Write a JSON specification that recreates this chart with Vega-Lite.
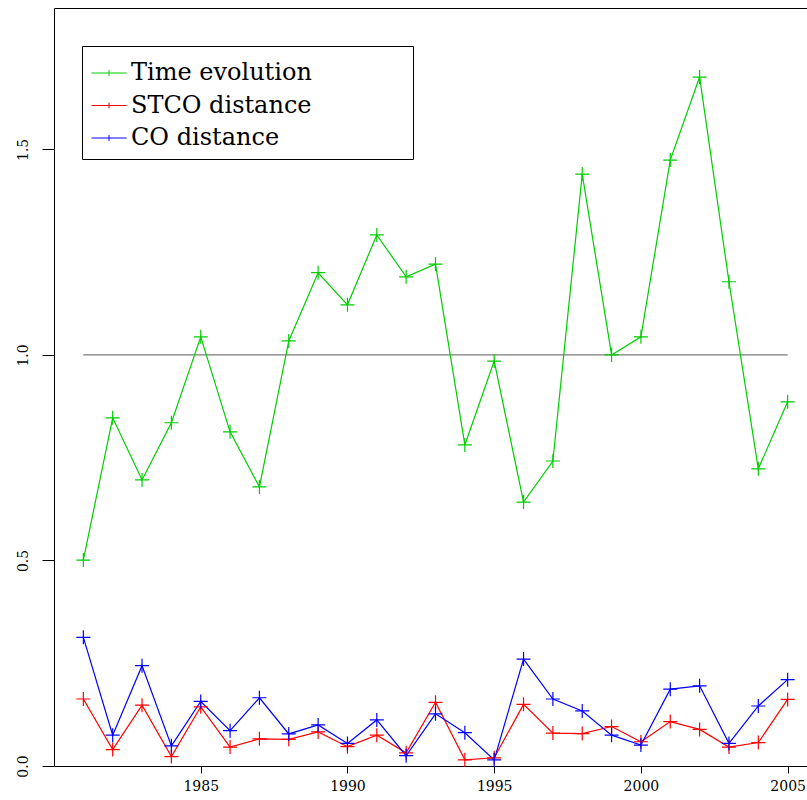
{
  "$schema": "https://vega.github.io/schema/vega-lite/v6.json",
  "width": 763,
  "height": 758,
  "autosize": {"type": "none"},
  "padding": {"left": 54, "top": 8, "right": 0, "bottom": 34},
  "background": "white",
  "config": {
    "view": {"stroke": "black", "strokeWidth": 1},
    "font": "DejaVu Serif",
    "axis": {"grid": false, "domain": false, "tickColor": "black", "labelColor": "black", "labelFont": "DejaVu Serif", "labelFontSize": 14, "title": null},
    "legend": {"orient": "none", "legendX": 28, "legendY": 38, "strokeColor": "black", "fillColor": "white", "padding": 9, "labelFont": "DejaVu Serif", "labelFontSize": 24, "labelColor": "black", "labelOffset": 4, "labelLimit": 600, "symbolType": "M-1,0H1M0,-0.17V0.17", "symbolSize": 1225, "symbolStrokeWidth": 1, "rowPadding": 2.5}
  },
  "datasets": {
    "ref": [{"x": 1981, "x2": 2005, "y": 1}],
    "series": [
      {"year": 1981, "series": "Time evolution", "value": 0.501},
      {"year": 1982, "series": "Time evolution", "value": 0.847},
      {"year": 1983, "series": "Time evolution", "value": 0.696},
      {"year": 1984, "series": "Time evolution", "value": 0.835},
      {"year": 1985, "series": "Time evolution", "value": 1.044},
      {"year": 1986, "series": "Time evolution", "value": 0.813},
      {"year": 1987, "series": "Time evolution", "value": 0.679},
      {"year": 1988, "series": "Time evolution", "value": 1.034},
      {"year": 1989, "series": "Time evolution", "value": 1.2},
      {"year": 1990, "series": "Time evolution", "value": 1.122},
      {"year": 1991, "series": "Time evolution", "value": 1.292},
      {"year": 1992, "series": "Time evolution", "value": 1.19},
      {"year": 1993, "series": "Time evolution", "value": 1.221},
      {"year": 1994, "series": "Time evolution", "value": 0.781},
      {"year": 1995, "series": "Time evolution", "value": 0.985},
      {"year": 1996, "series": "Time evolution", "value": 0.642},
      {"year": 1997, "series": "Time evolution", "value": 0.742},
      {"year": 1998, "series": "Time evolution", "value": 1.44},
      {"year": 1999, "series": "Time evolution", "value": 1.0},
      {"year": 2000, "series": "Time evolution", "value": 1.044},
      {"year": 2001, "series": "Time evolution", "value": 1.474},
      {"year": 2002, "series": "Time evolution", "value": 1.676},
      {"year": 2003, "series": "Time evolution", "value": 1.178},
      {"year": 2004, "series": "Time evolution", "value": 0.723},
      {"year": 2005, "series": "Time evolution", "value": 0.886},
      {"year": 1981, "series": "STCO distance", "value": 0.163},
      {"year": 1982, "series": "STCO distance", "value": 0.04},
      {"year": 1983, "series": "STCO distance", "value": 0.148},
      {"year": 1984, "series": "STCO distance", "value": 0.023},
      {"year": 1985, "series": "STCO distance", "value": 0.144},
      {"year": 1986, "series": "STCO distance", "value": 0.046},
      {"year": 1987, "series": "STCO distance", "value": 0.066},
      {"year": 1988, "series": "STCO distance", "value": 0.065},
      {"year": 1989, "series": "STCO distance", "value": 0.083},
      {"year": 1990, "series": "STCO distance", "value": 0.047},
      {"year": 1991, "series": "STCO distance", "value": 0.075},
      {"year": 1992, "series": "STCO distance", "value": 0.032},
      {"year": 1993, "series": "STCO distance", "value": 0.155},
      {"year": 1994, "series": "STCO distance", "value": 0.015},
      {"year": 1995, "series": "STCO distance", "value": 0.02},
      {"year": 1996, "series": "STCO distance", "value": 0.15},
      {"year": 1997, "series": "STCO distance", "value": 0.08},
      {"year": 1998, "series": "STCO distance", "value": 0.079},
      {"year": 1999, "series": "STCO distance", "value": 0.096},
      {"year": 2000, "series": "STCO distance", "value": 0.059},
      {"year": 2001, "series": "STCO distance", "value": 0.108},
      {"year": 2002, "series": "STCO distance", "value": 0.089},
      {"year": 2003, "series": "STCO distance", "value": 0.046},
      {"year": 2004, "series": "STCO distance", "value": 0.057},
      {"year": 2005, "series": "STCO distance", "value": 0.162},
      {"year": 1981, "series": "CO distance", "value": 0.313},
      {"year": 1982, "series": "CO distance", "value": 0.075},
      {"year": 1983, "series": "CO distance", "value": 0.244},
      {"year": 1984, "series": "CO distance", "value": 0.049},
      {"year": 1985, "series": "CO distance", "value": 0.157},
      {"year": 1986, "series": "CO distance", "value": 0.086},
      {"year": 1987, "series": "CO distance", "value": 0.166},
      {"year": 1988, "series": "CO distance", "value": 0.078},
      {"year": 1989, "series": "CO distance", "value": 0.1},
      {"year": 1990, "series": "CO distance", "value": 0.055},
      {"year": 1991, "series": "CO distance", "value": 0.112},
      {"year": 1992, "series": "CO distance", "value": 0.025},
      {"year": 1993, "series": "CO distance", "value": 0.127},
      {"year": 1994, "series": "CO distance", "value": 0.081},
      {"year": 1995, "series": "CO distance", "value": 0.015},
      {"year": 1996, "series": "CO distance", "value": 0.26},
      {"year": 1997, "series": "CO distance", "value": 0.163},
      {"year": 1998, "series": "CO distance", "value": 0.134},
      {"year": 1999, "series": "CO distance", "value": 0.075},
      {"year": 2000, "series": "CO distance", "value": 0.051},
      {"year": 2001, "series": "CO distance", "value": 0.187},
      {"year": 2002, "series": "CO distance", "value": 0.195},
      {"year": 2003, "series": "CO distance", "value": 0.055},
      {"year": 2004, "series": "CO distance", "value": 0.146},
      {"year": 2005, "series": "CO distance", "value": 0.21}
    ]
  },
  "layer": [
    {
      "data": {"name": "ref"},
      "mark": {"type": "rule", "color": "#7a7a7a", "strokeWidth": 1.2},
      "encoding": {
        "x": {"field": "x", "type": "quantitative", "scale": {"domain": [1980, 2006], "nice": false, "zero": false}, "axis": {"values": [1985, 1990, 1995, 2000, 2005], "format": "d", "tickSize": 7, "labelPadding": 6}},
        "x2": {"field": "x2"},
        "y": {"field": "y", "type": "quantitative", "scale": {"domain": [0, 1.844], "nice": false}, "axis": {"values": [0, 0.5, 1, 1.5], "format": ".1f", "labelAngle": -90, "labelAlign": "center", "labelBaseline": "bottom", "tickSize": 12, "labelPadding": 12}}
      }
    },
    {
      "data": {"name": "series"},
      "mark": {"type": "line", "strokeWidth": 1.2},
      "encoding": {
        "x": {"field": "year", "type": "quantitative"},
        "y": {"field": "value", "type": "quantitative"},
        "color": {"field": "series", "type": "nominal", "scale": {"domain": ["Time evolution", "STCO distance", "CO distance"], "range": ["#00cd00", "#ff0000", "#0000ff"]}, "legend": {"title": null, "labelExpr": "datum.label + '\u00a0\u00a0\u00a0\u00a0\u00a0\u00a0\u00a0\u00a0\u00a0\u00a0\u00a0\u00a0\u200b'"}}
      }
    },
    {
      "data": {"name": "series"},
      "mark": {"type": "point", "shape": "M-1,0H1M0,-1V1", "filled": false, "size": 196, "strokeWidth": 1.2, "opacity": 1},
      "encoding": {
        "x": {"field": "year", "type": "quantitative"},
        "y": {"field": "value", "type": "quantitative"},
        "color": {"field": "series", "type": "nominal", "scale": {"domain": ["Time evolution", "STCO distance", "CO distance"], "range": ["#00cd00", "#ff0000", "#0000ff"]}, "legend": {"title": null, "labelExpr": "datum.label + '\u00a0\u00a0\u00a0\u00a0\u00a0\u00a0\u00a0\u00a0\u00a0\u00a0\u00a0\u00a0\u200b'"}}
      }
    }
  ]
}
